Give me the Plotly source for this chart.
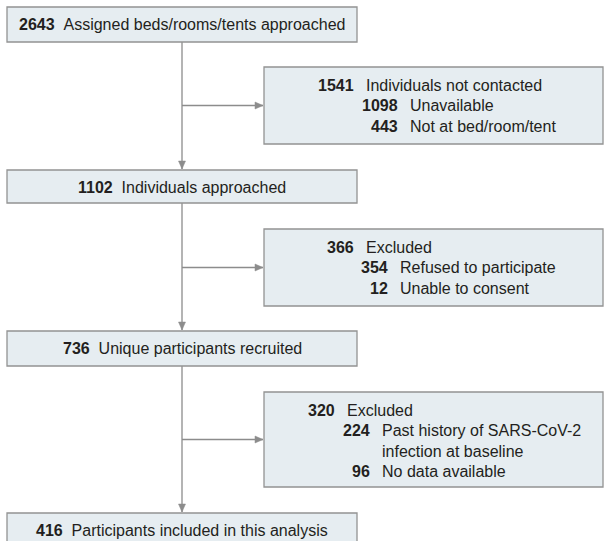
import plotly.graph_objects as go

# ---- data ----
main_counts = [2643, 1102, 736, 416]
main_labels = [
    "Assigned beds/rooms/tents approached",
    "Individuals approached",
    "Unique participants recruited",
    "Participants included in this analysis",
]
excl_counts = [1541, 366, 320]
excl_labels = ["Individuals not contacted", "Excluded", "Excluded"]
sub_counts = [[1098, 443], [354, 12], [224, 96]]
sub_labels = [
    [["Unavailable"], ["Not at bed/room/tent"]],
    [["Refused to participate"], ["Unable to consent"]],
    [["Past history of SARS-CoV-2", "infection at baseline"], ["No data available"]],
]

# ---- layout (pixel geometry) ----
W, H = 608, 541
main_x = (7, 357)
main_y = [(7, 42), (170, 203), (331, 366), (513, 560)]
excl_x = (264, 603)
excl_y = [(67, 144), (229, 306), (392, 487)]
excl_num_right = [356, 356, 337]
sub_num_right = [400, 390, 372]
gap = 8
row_first = 18
row_step = 20.5
spine_x = (main_x[0] + main_x[1]) / 2

FILL = "#e6edf1"
BORDER = "#939393"
LINE = "#8c8c8c"
TEXT = "#231f20"
FONT = "Liberation Sans, Arial, sans-serif"
FS = 16

fig = go.Figure()
shapes = []
annotations = []


def box(x0, x1, y0, y1):
    shapes.append(dict(type="rect", xref="x", yref="y", x0=x0, x1=x1, y0=y0, y1=y1,
                       fillcolor=FILL, line=dict(color=BORDER, width=1.3), layer="above"))


def seg(x0, y0, x1, y1):
    shapes.append(dict(type="line", xref="x", yref="y", x0=x0, y0=y0, x1=x1, y1=y1,
                       line=dict(color=LINE, width=1.3), layer="above"))


def head(x, y, direction):
    L, hw = 8, 3.5
    if direction == "down":
        p = f"M {x} {y} L {x-hw} {y-L} L {x+hw} {y-L} Z"
    else:
        p = f"M {x} {y} L {x-L} {y-hw} L {x-L} {y+hw} Z"
    shapes.append(dict(type="path", xref="x", yref="y", path=p,
                       fillcolor=LINE, line=dict(color=LINE, width=0.5), layer="above"))


def txt(x, y, s, anchor, bold=False):
    if bold:
        s = f"<b>{s}</b>"
    annotations.append(dict(x=x, y=y, xref="x", yref="y", text=s, showarrow=False,
                            xanchor=anchor, yanchor="middle",
                            font=dict(family=FONT, size=FS, color=TEXT)))


# connectors
for i in range(len(main_counts) - 1):
    y_start = main_y[i][1]
    y_end = main_y[i + 1][0]
    seg(spine_x, y_start, spine_x, y_end - 1)
    head(spine_x, y_end - 1, "down")
    by = (excl_y[i][0] + excl_y[i][1]) / 2
    seg(spine_x, by, excl_x[0] - 1, by)
    head(excl_x[0] - 1, by, "right")

# main boxes
for i, (c, lab) in enumerate(zip(main_counts, main_labels)):
    y0, y1 = main_y[i]
    box(main_x[0], main_x[1], y0, y1)
    txt(spine_x, y0 + 17.5, f"<b>{c}</b>\u00a0\u00a0{lab}", "center")

# exclusion boxes
for i, (c, lab) in enumerate(zip(excl_counts, excl_labels)):
    y0, y1 = excl_y[i]
    box(excl_x[0], excl_x[1], y0, y1)
    ry = y0 + row_first
    txt(excl_num_right[i], ry, str(c), "right", bold=True)
    txt(excl_num_right[i] + gap, ry, lab, "left")
    for sc, sl in zip(sub_counts[i], sub_labels[i]):
        ry += row_step
        txt(sub_num_right[i], ry, str(sc), "right", bold=True)
        for k, line in enumerate(sl):
            if k > 0:
                ry += row_step
            txt(sub_num_right[i] + gap, ry, line, "left")

fig.update_layout(
    width=W, height=H,
    margin=dict(l=0, r=0, t=0, b=0),
    paper_bgcolor="white", plot_bgcolor="white",
    xaxis=dict(range=[0, W], visible=False, fixedrange=True),
    yaxis=dict(range=[H, 0], visible=False, fixedrange=True),
    shapes=shapes, annotations=annotations,
    showlegend=False,
)
fig.write_html(
    "out.html",
    config={"displayModeBar": False},
    post_script="document.body.style.margin='0';document.body.style.overflow='hidden';",
)
